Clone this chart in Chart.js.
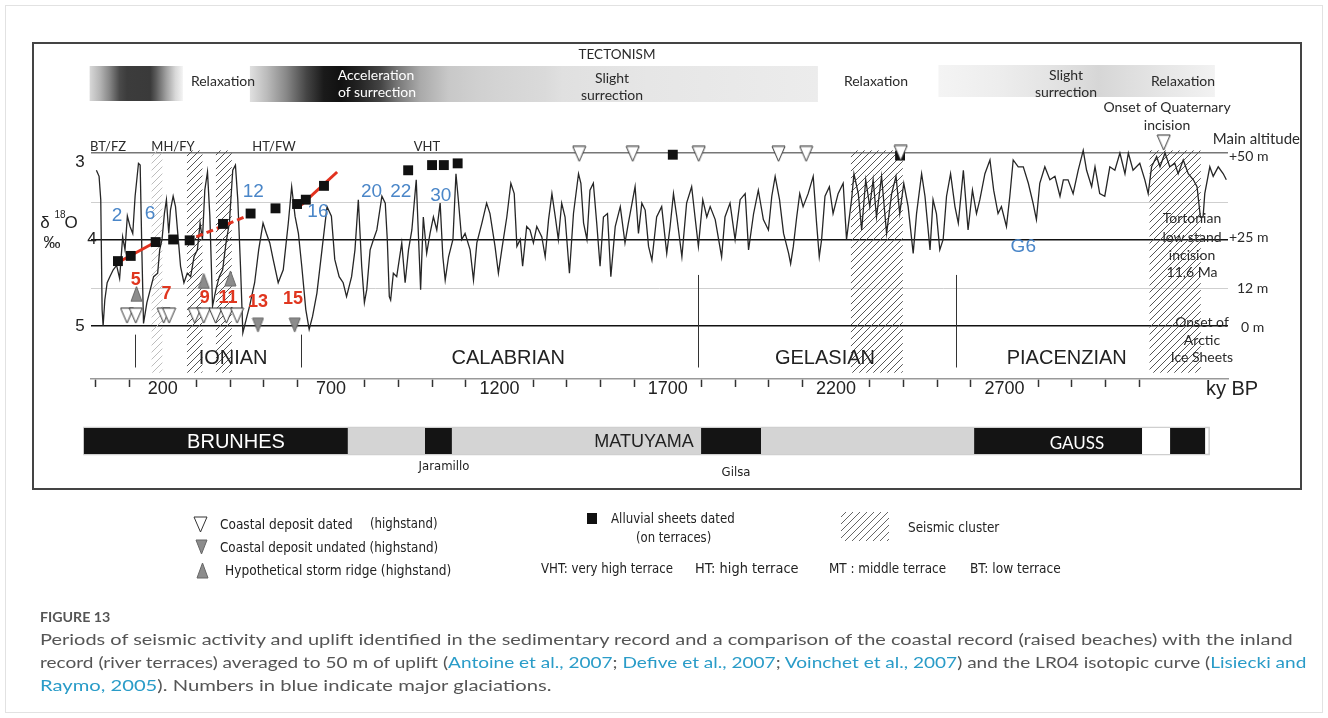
<!DOCTYPE html>
<html>
<head>
<meta charset="utf-8">
<script src="https://cdn.jsdelivr.net/npm/chart.js@4.4.1/dist/chart.umd.min.js"></script>
<style>
  body { margin: 0; background: #fff; }
  #page { position: relative; width: 1328px; height: 718px; overflow: hidden; color: #222; }
  #card { position: absolute; left: 5px; top: 5px; width: 1316px; height: 706px; border: 1px solid #e2e2e2; }
  #frame { position: absolute; left: 32px; top: 42px; width: 1266px; height: 444px; border: 2px solid #444; }
  #chart { position: absolute; left: 0; top: 0; }
  .t { position: absolute; white-space: nowrap; line-height: 1; }
  .c { transform: translate(-50%, -50%); }
  .l { transform: translateY(-50%); }
  .r { transform: translate(-100%, -50%); }
  .ann { font-family: Lato, "Open Sans", sans-serif; font-size: 14px; color: #2a2a2a; }
  .ar { font-family: "Liberation Sans", Arial, sans-serif; }
  .nar { font-family: "Liberation Sans Narrow", "DejaVu Sans Condensed", sans-serif; font-size: 14px; color: #222; }
  .cap { font-family: Lato, "Open Sans", sans-serif; font-size: 16px; color: #555; }
  .cap a { color: #2a9cc8; text-decoration: none; }
</style>
</head>
<body>
<div id="page">
  <div id="card"></div>
  <div id="frame"></div>
  <canvas id="chart" width="1328" height="718"></canvas>

  <!-- tectonism header and phases -->
  <div class="t c ann" style="left:617px;top:55px;font-size:13.5px">TECTONISM</div>
  <div class="t c ann" style="left:223px;top:81px">Relaxation</div>
  <div class="t c ann" style="left:376px;top:75px;color:#fff">Acceleration</div>
  <div class="t c ann" style="left:377px;top:92px;color:#fff">of surrection</div>
  <div class="t c ann" style="left:612px;top:78px">Slight</div>
  <div class="t c ann" style="left:612px;top:95px">surrection</div>
  <div class="t c ann" style="left:876px;top:81px">Relaxation</div>
  <div class="t c ann" style="left:1066px;top:75px">Slight</div>
  <div class="t c ann" style="left:1066px;top:92px">surrection</div>
  <div class="t c ann" style="left:1183px;top:81px">Relaxation</div>
  <div class="t c ann" style="left:1167px;top:107px">Onset of Quaternary</div>
  <div class="t c ann" style="left:1167px;top:125px">incision</div>

  <!-- terrace names -->
  <div class="t c ann" style="left:108px;top:146px;font-size:13px">BT/FZ</div>
  <div class="t c ann" style="left:173px;top:146px;font-size:13px">MH/FY</div>
  <div class="t c ann" style="left:274px;top:146px;font-size:13px">HT/FW</div>
  <div class="t c ann" style="left:427px;top:146px;font-size:13px">VHT</div>

  <!-- right side altitudes -->
  <div class="t r ann" style="left:1300px;top:138px;font-size:15px">Main altitude</div>
  <div class="t l ann" style="left:1229px;top:156px">+50 m</div>
  <div class="t l ann" style="left:1229px;top:237px">+25 m</div>
  <div class="t l ann" style="left:1237px;top:288px">12 m</div>
  <div class="t l ann" style="left:1241px;top:327px">0 m</div>
  <div class="t c ann" style="left:1192px;top:218px">Tortonian</div>
  <div class="t c ann" style="left:1192px;top:237px">low stand</div>
  <div class="t c ann" style="left:1192px;top:255px">incision</div>
  <div class="t c ann" style="left:1192px;top:272px">11,6 Ma</div>
  <div class="t c ann" style="left:1202px;top:322px">Onset of</div>
  <div class="t c ann" style="left:1202px;top:340px">Arctic</div>
  <div class="t c ann" style="left:1202px;top:357px">Ice Sheets</div>

  <!-- y axis title -->
  <div class="t c ar" style="left:45px;top:222px;font-size:17px">δ</div>
  <div class="t c ar" style="left:60px;top:215px;font-size:10px">18</div>
  <div class="t c ar" style="left:71px;top:222px;font-size:17px">O</div>
  <div class="t c ar" style="left:52px;top:242px;font-size:17px">‰</div>
  <div class="t c ar" style="left:1232px;top:388px;font-size:20px">ky BP</div>

  <!-- polarity names -->
  <div class="t c ar" style="left:236px;top:441px;font-size:20px;color:#fff">BRUNHES</div>
  <div class="t c ar" style="left:644px;top:441px;font-size:18px">MATUYAMA</div>
  <div class="t c ann" style="left:1077px;top:442px;font-size:17px;color:#fff">GAUSS</div>
  <div class="t c nar" style="left:444px;top:465px;font-size:13px">Jaramillo</div>
  <div class="t c nar" style="left:736px;top:471px;font-size:13px">Gilsa</div>

  <!-- legend -->
  <div class="t l nar fit" data-w="133" style="left:220px;top:524px">Coastal deposit dated</div>
  <div class="t l nar fit" data-w="68" style="left:370px;top:523px">(highstand)</div>
  <div class="t l nar fit" data-w="218" style="left:220px;top:547px">Coastal deposit undated (highstand)</div>
  <div class="t l nar fit" data-w="226" style="left:225px;top:570px">Hypothetical storm ridge (highstand)</div>
  <div class="t l nar fit" data-w="124" style="left:611px;top:518px">Alluvial sheets dated</div>
  <div class="t l nar fit" data-w="75" style="left:636px;top:537px">(on terraces)</div>
  <div class="t l nar fit" data-w="91" style="left:908px;top:527px">Seismic cluster</div>
  <div class="t l nar fit" data-w="132" style="left:541px;top:568px">VHT: very high terrace</div>
  <div class="t l nar fit" data-w="104" style="left:695px;top:568px">HT: high terrace</div>
  <div class="t l nar fit" data-w="117" style="left:829px;top:568px">MT : middle terrace</div>
  <div class="t l nar fit" data-w="91" style="left:970px;top:568px">BT: low terrace</div>

  <!-- caption -->
  <div class="t l cap fit" data-w="70" style="left:40px;top:617px;font-size:14px;font-weight:700;color:#555">FIGURE 13</div>
  <div class="t l cap fit" data-w="1253" style="left:40px;top:639px">Periods of seismic activity and uplift identified in the sedimentary record and a comparison of the coastal record (raised beaches) with the inland</div>
  <div class="t l cap fit" data-w="1266" style="left:40px;top:662px">record (river terraces) averaged to 50 m of uplift (<a>Antoine et al., 2007</a>; <a>Defive et al., 2007</a>; <a>Voinchet et al., 2007</a>) and the LR04 isotopic curve (<a>Lisiecki and</a></div>
  <div class="t l cap fit" data-w="511" style="left:40px;top:685px"><a>Raymo, 2005</a>). Numbers in blue indicate major glaciations.</div>
</div>

<script>
// LR04 benthic stack: [age ky BP, d18O permil]
const lr04 = [
  [3,3.20],[11,3.27],[16,3.54],[20,4.81],[23,5.00],[28,4.70],[35,4.50],[43,4.43],[53,4.35],[63,4.30],
  [72,4.45],[81,3.97],[88,4.12],[95,3.73],[103,3.85],[111,3.93],[118,3.50],[128,3.12],[133,3.14],[138,4.12],
  [143,4.97],[153,4.73],[163,4.58],[173,4.43],[185,4.39],[191,4.12],[198,4.00],[205,3.70],[211,3.54],[218,3.93],
  [223,3.66],[231,3.50],[238,3.62],[253,4.31],[263,4.50],[273,4.39],[283,4.43],[293,4.20],[303,4.12],[311,3.81],
  [318,4.00],[325,3.43],[333,3.22],[340,3.73],[348,4.77],[358,4.58],[368,4.43],[378,4.35],[388,4.04],[398,3.81],
  [408,3.20],[416,3.14],[423,3.54],[431,4.31],[438,5.08],[445,4.97],[458,4.77],[473,4.50],[485,4.12],[498,3.81],
  [508,3.93],[518,4.04],[528,4.23],[543,4.50],[558,4.35],[573,3.81],[583,3.39],[593,3.73],[603,3.93],[613,4.31],
  [625,4.81],[635,5.04],[645,4.89],[658,4.62],[673,4.12],[688,3.62],[701,3.73],[711,4.23],[724,4.43],[736,4.50],
  [746,4.66],[761,4.43],[771,4.12],[781,3.54],[791,4.31],[799,4.73],[806,4.58],[816,4.12],[826,4.00],[836,3.89],
  [851,3.50],[861,3.58],[867,4.00],[873,4.66],[877,4.70],[885,4.39],[895,4.43],[910,4.04],[920,4.50],[930,4.12],
  [940,3.89],[953,3.31],[960,4.00],[966,4.58],[974,3.74],[984,4.16],[994,3.93],[1004,3.74],[1014,3.89],[1024,3.58],
  [1032,4.20],[1039,4.47],[1049,4.20],[1062,4.00],[1071,3.24],[1078,3.54],[1088,4.00],[1098,3.93],[1113,4.12],[1123,4.47],
  [1133,4.04],[1148,3.81],[1162,3.58],[1172,3.70],[1187,4.08],[1197,4.39],[1207,4.12],[1222,3.74],[1234,3.35],[1244,3.47],
  [1252,4.08],[1262,4.00],[1269,4.31],[1281,3.85],[1291,3.89],[1301,4.04],[1311,3.85],[1326,3.97],[1336,4.20],[1346,3.77],
  [1356,3.47],[1366,3.74],[1375,4.00],[1385,3.58],[1395,3.74],[1408,4.39],[1420,3.70],[1435,3.24],[1442,3.35],[1450,3.81],
  [1460,4.00],[1469,3.43],[1479,3.35],[1489,3.81],[1499,4.31],[1509,3.74],[1521,3.70],[1531,4.43],[1544,3.85],[1559,3.62],
  [1573,4.04],[1583,3.81],[1603,3.39],[1613,3.93],[1623,3.58],[1633,3.66],[1643,4.08],[1653,4.24],[1667,3.74],[1682,3.62],
  [1697,4.16],[1707,3.85],[1717,3.47],[1727,3.74],[1742,4.20],[1756,3.58],[1771,3.39],[1781,3.74],[1791,4.08],[1804,3.54],
  [1816,3.74],[1826,3.62],[1841,3.77],[1860,4.20],[1870,3.74],[1885,3.58],[1900,4.00],[1915,3.54],[1930,3.47],[1940,4.12],
  [1955,3.70],[1969,3.43],[1984,3.77],[1999,3.89],[2009,3.50],[2019,3.27],[2032,3.54],[2044,3.93],[2059,4.16],[2065,4.28],
  [2073,4.08],[2083,3.74],[2092,3.47],[2102,3.62],[2117,3.47],[2132,3.27],[2142,3.81],[2150,4.20],[2157,4.00],[2167,3.50],
  [2180,3.39],[2191,3.70],[2206,3.47],[2221,3.35],[2231,4.00],[2246,3.54],[2253,3.24],[2266,3.47],[2276,3.89],[2288,3.31],
  [2300,3.62],[2310,3.31],[2320,3.74],[2335,3.27],[2350,3.93],[2365,3.47],[2378,3.27],[2389,3.70],[2401,3.35],[2414,3.62],
  [2429,4.16],[2439,3.70],[2454,3.24],[2464,3.50],[2479,4.12],[2488,3.54],[2498,3.70],[2508,4.12],[2518,4.00],[2528,3.50],
  [2540,3.24],[2553,3.62],[2563,3.81],[2578,3.20],[2592,3.89],[2605,3.43],[2617,3.70],[2627,3.54],[2642,3.24],[2657,3.08],
  [2668,3.43],[2681,3.70],[2691,3.62],[2706,3.85],[2716,3.50],[2726,3.08],[2741,3.16],[2756,3.16],[2771,3.35],[2785,3.58],
  [2795,3.77],[2805,3.35],[2820,3.16],[2835,3.31],[2850,3.27],[2865,3.50],[2875,3.31],[2889,3.31],[2904,3.47],[2919,3.20],
  [2934,2.97],[2944,3.20],[2959,3.39],[2969,3.16],[2983,3.47],[2998,3.50],[3013,3.16],[3028,3.20],[3043,3.00],[3058,3.24],
  [3068,3.00],[3082,3.20],[3102,3.12],[3117,3.31],[3127,3.47],[3137,3.16],[3152,3.04],[3162,3.16],[3177,3.00],[3191,3.16],
  [3206,3.12],[3216,3.24],[3231,3.08],[3246,3.24],[3261,3.31],[3272,3.39],[3282,3.74],[3290,3.74],[3295,3.47],[3310,3.16],
  [3320,3.27],[3335,3.16],[3350,3.24],[3359,3.31]
];

// markers
const alluvialAge = [67, 105, 179, 231, 280, 379, 461, 535, 599, 625, 679, 929, 1000, 1035, 1076, 1715, 2390];
const alluvialD18O = [4.25, 4.19, 4.03, 4.00, 4.01, 3.82, 3.70, 3.64, 3.59, 3.54, 3.38, 3.20, 3.14, 3.14, 3.12, 3.02, 3.03];
const datedAge = [94, 120, 203, 219, 295, 322, 357, 389, 421, 1437, 1596, 1792, 2029, 2111, 2392, 3173];
const datedD18O = [4.88, 4.88, 4.88, 4.88, 4.88, 4.88, 4.88, 4.88, 4.88, 3.01, 3.01, 3.01, 3.01, 3.01, 3.00, 2.88];
const undatedAge = [483, 592];
const undatedD18O = [4.99, 4.99];
const stormAge = [122, 322, 401];
const stormD18O = [4.63, 4.48, 4.45];

// terrace uplift trends (red)
const trendAge = [[60, 183], [300, 462], [612, 718]];
const trendD18O = [[4.28, 4.02], [3.97, 3.71], [3.60, 3.22]];

// seismic clusters (ky BP)
const seismicStart = [167, 272, 358, 2244, 3131];
const seismicEnd = [199, 318, 405, 2398, 3283];

// tectonism phases (ky BP)
const tectStart = [-17, 459, 2504];
const tectEnd = [260, 2146, 3325];

// magnetic polarity
const polarityEdges = [-34, 750, 979, 1059, 1799, 1977, 2610, 3109, 3192, 3296];
const polarityType = ['N', 'R', 'N', 'R', 'N', 'R', 'N', 'W', 'N'];

// stages
const stageBound = [117, 612, 1791, 2555];
const stageName = ['IONIAN', 'CALABRIAN', 'GELASIAN', 'PIACENZIAN'];
const stageMid = [409, 1226, 2167, 2885];

// glaciations (blue) and interglacial MIS (red)
const glacialLabel = ['2', '6', '12', '16', '20', '22', '30', 'G6'];
const glacialAge = [64, 162, 469, 661, 820, 907, 1026, 2756];
const glacialD18O = [3.73, 3.70, 3.45, 3.68, 3.45, 3.45, 3.50, 4.09];
const misLabel = ['5', '7', '9', '11', '13', '15'];
const misAge = [120, 211, 325, 394, 483, 587];
const misD18O = [4.47, 4.63, 4.68, 4.68, 4.72, 4.69];

// axes
const xTickValues = Array.from({ length: 32 }, (_, i) => i * 100);
const xTickLabels = [200, 700, 1200, 1700, 2200, 2700, 3200];
const yLabelValues = [3, 4, 5];
const altitudeLevels = [3, 3.574, 4, 4.561, 5]; // +50, ~36, +25, 12, 0 m

const ARIAL = "'Liberation Sans', Arial, sans-serif";

// isoceles triangle marker as a small canvas
function triangle(w, h, fill, stroke, down) {
  const c = document.createElement('canvas');
  c.width = w + 2; c.height = h + 2;
  const g = c.getContext('2d');
  g.beginPath();
  if (down) { g.moveTo(1, 1); g.lineTo(w + 1, 1); g.lineTo(w / 2 + 1, h + 1); }
  else { g.moveTo(w / 2 + 1, 1); g.lineTo(w + 1, h + 1); g.lineTo(1, h + 1); }
  g.closePath();
  g.fillStyle = fill; g.fill();
  g.lineWidth = 1; g.strokeStyle = stroke; g.stroke();
  return c;
}
const triDated = triangle(13, 15, '#fff', '#333', true);
const triUndated = triangle(11, 14, '#8c8c8c', '#666', true);
const triStorm = triangle(11, 15, '#8c8c8c', '#666', false);

function hatchTile(color) {
  const c = document.createElement('canvas');
  c.width = 7; c.height = 7;
  const g = c.getContext('2d');
  g.strokeStyle = color; g.lineWidth = 1;
  g.beginPath(); g.moveTo(-1, 8); g.lineTo(8, -1); g.stroke();
  return c;
}

function pts(ages, vals) { return ages.map((a, i) => ({ x: a, y: vals[i] })); }

function text(ctx, s, x, y, font, color) {
  ctx.font = font; ctx.fillStyle = color;
  ctx.textAlign = 'center'; ctx.textBaseline = 'middle';
  ctx.fillText(s, x, y);
}

const tectGradients = [
  [[0, '#d8d8d8'], [0.11, '#b5b5b5'], [0.21, '#888'], [0.32, '#4a4a4a'], [0.4, '#3c3c3c'], [0.65, '#3a3a3a'], [0.71, '#5a5a5a'], [0.82, '#a0a0a0'], [0.92, '#d8d8d8'], [1, '#f4f4f4']],
  [[0, '#e0e0e0'], [0.03, '#bbb'], [0.064, '#888'], [0.1, '#444'], [0.13, '#1a1a1a'], [0.16, '#111'], [0.19, '#222'], [0.23, '#444'], [0.26, '#777'], [0.3, '#aaa'], [0.35, '#c8c8c8'], [0.4, '#d0d0d0'], [0.44, '#d4d4d4'], [0.52, '#dadada'], [0.55, '#e0e0e0'], [0.7, '#e6e6e6'], [1, '#ececec']],
  [[0, '#f4f4f4'], [0.22, '#ededed'], [0.4, '#e4e4e4'], [0.51, '#dcdcdc'], [0.58, '#d6d6d6'], [0.69, '#dedede'], [0.84, '#e8e8e8'], [1, '#f2f2f2']]
];
const tectY = [[66, 101], [66, 102], [65, 97]];

const backgroundPlugin = {
  id: 'background',
  beforeDatasetsDraw(chart) {
    const { ctx, scales: { x, y } } = chart;
    ctx.save();
    // tectonism phases
    tectStart.forEach((s, i) => {
      const x0 = x.getPixelForValue(s), x1 = x.getPixelForValue(tectEnd[i]);
      const grad = ctx.createLinearGradient(x0, 0, x1, 0);
      tectGradients[i].forEach(([o, c]) => grad.addColorStop(o, c));
      ctx.fillStyle = grad;
      ctx.fillRect(x0, tectY[i][0], x1 - x0, tectY[i][1] - tectY[i][0]);
    });
    // seismic clusters
    const top = y.getPixelForValue(2.97), bottom = y.getPixelForValue(5.54);
    seismicStart.forEach((s, i) => {
      const x0 = x.getPixelForValue(s), x1 = x.getPixelForValue(seismicEnd[i]);
      ctx.fillStyle = ctx.createPattern(hatchTile(i === 0 ? '#bdbdbd' : '#555'), 'repeat');
      ctx.fillRect(x0, top, x1 - x0, bottom - top);
    });
    // stage boundaries
    ctx.strokeStyle = '#333'; ctx.lineWidth = 1;
    stageBound.forEach((b, i) => {
      const px = Math.round(x.getPixelForValue(b)) + 0.5;
      ctx.beginPath();
      ctx.moveTo(px, y.getPixelForValue(i < 2 ? 5.10 : 4.41));
      ctx.lineTo(px, y.getPixelForValue(5.48));
      ctx.stroke();
    });
    ctx.restore();
  },
  afterDatasetsDraw(chart) {
    const { ctx, scales: { x, y } } = chart;
    ctx.save();
    stageName.forEach((s, i) => text(ctx, s, x.getPixelForValue(stageMid[i]), y.getPixelForValue(5.38), `20px ${ARIAL}`, '#222'));
    glacialLabel.forEach((s, i) => text(ctx, s, x.getPixelForValue(glacialAge[i]), y.getPixelForValue(glacialD18O[i]), `19px ${ARIAL}`, '#4a86c8'));
    misLabel.forEach((s, i) => text(ctx, s, x.getPixelForValue(misAge[i]), y.getPixelForValue(misD18O[i]), `bold 18px ${ARIAL}`, '#e0361f'));
    const labelX = [80, 92, 80], labelDy = [9, 0, 0];
    yLabelValues.forEach((v, i) => text(ctx, String(v), labelX[i], y.getPixelForValue(v) + labelDy[i], `17px ${ARIAL}`, '#222'));
    ctx.restore();
  },
  afterDraw(chart) {
    const { ctx, scales: { x } } = chart;
    ctx.save();
    // polarity bar
    const pTop = 428, pH = 26;
    const xs = polarityEdges.map(v => x.getPixelForValue(v));
    ctx.fillStyle = '#fff';
    ctx.strokeStyle = '#cfcfcf'; ctx.lineWidth = 1.5;
    ctx.strokeRect(xs[0], pTop - 0.5, x.getPixelForValue(3308) - xs[0], pH + 1);
    polarityType.forEach((t, i) => {
      ctx.fillStyle = t === 'N' ? '#141414' : t === 'R' ? '#d4d4d4' : '#fff';
      ctx.fillRect(xs[i], pTop, xs[i + 1] - xs[i], pH);
    });
    // legend symbols
    ctx.drawImage(triDated, 193, 516);
    ctx.drawImage(triUndated, 195, 539);
    ctx.drawImage(triStorm, 196, 562);
    ctx.fillStyle = '#111';
    ctx.fillRect(587, 513, 10, 11);
    ctx.fillStyle = ctx.createPattern(hatchTile('#666'), 'repeat');
    ctx.fillRect(841, 512, 48, 29);
    ctx.restore();
  }
};

const ctx = document.getElementById('chart').getContext('2d');
const chart = new Chart(ctx, {
  type: 'line',
  data: {
    datasets: [
      {
        data: pts(alluvialAge, alluvialD18O), showLine: false, order: 1,
        pointStyle: 'rect', pointRadius: 7, pointBackgroundColor: '#111', pointBorderWidth: 0
      },
      { data: pts(datedAge, datedD18O), showLine: false, order: 0, pointStyle: triDated, pointRadius: 5 },
      { data: pts(undatedAge, undatedD18O), showLine: false, order: 0, pointStyle: triUndated, pointRadius: 5 },
      { data: pts(stormAge, stormD18O), showLine: false, order: 0, pointStyle: triStorm, pointRadius: 5 },
      ...trendAge.map((a, i) => ({
        data: pts(a, trendD18O[i]), order: 2, borderColor: '#e2321f', borderWidth: 3,
        borderDash: i === 1 ? [7, 4] : [], pointRadius: 0
      })),
      {
        data: lr04.map(([a, v]) => ({ x: a, y: v })), order: 3,
        borderColor: '#262626', borderWidth: 1.3, pointRadius: 0, tension: 0
      }
    ]
  },
  options: {
    responsive: false,
    animation: false,
    devicePixelRatio: 1,
    layout: { padding: { left: 91, right: 100, top: 60, bottom: 309 } },
    plugins: { legend: { display: false }, tooltip: { enabled: false } },
    scales: {
      x: {
        type: 'linear', min: -13, max: 3364,
        border: { color: '#999', width: 1.5 },
        grid: {
          drawOnChartArea: false, tickLength: 8, tickWidth: 1.5,
          tickColor: c => xTickLabels.includes(c.tick.value) ? 'rgba(0,0,0,0)' : '#333'
        },
        ticks: {
          autoSkip: false, maxRotation: 0, padding: -9, color: '#222',
          font: { size: 18, family: ARIAL },
          callback: v => xTickLabels.includes(v) ? String(v) : ''
        },
        afterBuildTicks: s => { s.ticks = xTickValues.map(v => ({ value: v })); },
        afterFit: s => { s.height = 30; }
      },
      y: {
        type: 'linear', reverse: true, min: 1.925, max: 5.613,
        border: { display: false },
        ticks: { display: false },
        grid: {
          drawTicks: false,
          color: c => c.tick.value === 3 ? '#777' : Number.isInteger(c.tick.value) ? '#111' : '#cfcfcf',
          lineWidth: c => Number.isInteger(c.tick.value) ? 1.5 : 1
        },
        afterBuildTicks: s => { s.ticks = altitudeLevels.map(v => ({ value: v })); },
        afterFit: s => { s.width = 0; }
      }
    }
  },
  plugins: [backgroundPlugin]
});

// squeeze text lines to the widths they have in the figure
function fitText() {
  document.querySelectorAll('.fit').forEach(el => {
    const k = Number(el.dataset.w) / el.offsetWidth;
    el.style.transformOrigin = '0 50%';
    el.style.transform = `translateY(-50%) scaleX(${k})`;
  });
}
fitText();
if (document.fonts) document.fonts.ready.then(fitText);
</script>
</body>
</html>
